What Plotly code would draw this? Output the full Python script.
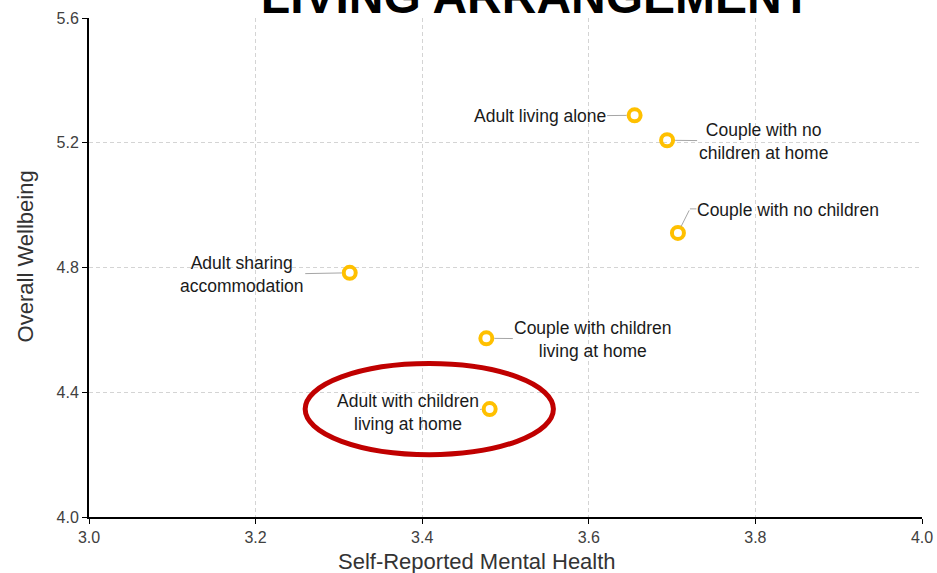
import plotly.graph_objects as go

# ---- data ----
categories = [
    "Adult living alone",
    "Couple with no<br>children at home",
    "Couple with no children",
    "Adult sharing<br>accommodation",
    "Couple with children<br>living at home",
    "Adult with children<br>living at home",
]
mental_health = [3.655, 3.694, 3.707, 3.313, 3.477, 3.481]
wellbeing = [5.288, 5.208, 4.911, 4.783, 4.573, 4.346]
x_ticks = [3.0, 3.2, 3.4, 3.6, 3.8, 4.0]
y_ticks = [4.0, 4.4, 4.8, 5.2, 5.6]
highlight_index = 5

# ---- label placement (pixel offsets of label centre from its point) ----
label_offsets = [(-95, 1), (96, 1), (110, -23), (-108, 2), (107, 1), (-82, 3)]
elbow_label = 2

FONT = "Arial, Liberation Sans, sans-serif"

fig = go.Figure()
fig.add_trace(go.Scatter(
    x=mental_health, y=wellbeing, mode="markers",
    marker=dict(symbol="circle-open", size=12, color="#FFC000",
                line=dict(width=4, color="#FFC000")),
    hoverinfo="text", text=categories, showlegend=False,
))

annotations = []
for i, (cat, xv, yv) in enumerate(zip(categories, mental_health, wellbeing)):
    dx, dy = label_offsets[i]
    if i == elbow_label:
        annotations.append(dict(
            x=xv, y=yv, xref="x", yref="y", text=cat, showarrow=False,
            xshift=dx, yshift=-dy, font=dict(family=FONT, size=17.5, color="#1a1a1a")))
        # elbow leader: diagonal part and short horizontal part
        annotations.append(dict(
            x=xv, y=yv, xref="x", yref="y", text="", showarrow=True,
            ax=12, ay=-24, arrowhead=0, arrowwidth=1, arrowcolor="#a6a6a6", standoff=7))
        annotations.append(dict(
            x=xv, y=yv, xref="x", yref="y", text="", showarrow=True,
            xshift=12, yshift=24, ax=8, ay=0,
            arrowhead=0, arrowwidth=1, arrowcolor="#a6a6a6", standoff=0))
    else:
        annotations.append(dict(
            x=xv, y=yv, xref="x", yref="y", text=cat, showarrow=True,
            ax=dx, ay=dy, arrowhead=0, arrowwidth=1, arrowcolor="#a6a6a6",
            standoff=8, font=dict(family=FONT, size=17.5, color="#1a1a1a")))

# axis titles
annotations.append(dict(
    text="Self-Reported Mental Health", xref="paper", yref="paper",
    x=0.4652, y=-0.089, xanchor="center", yanchor="middle", showarrow=False,
    font=dict(family=FONT, size=22, color="#333333")))
annotations.append(dict(
    text="Overall Wellbeing", xref="paper", yref="paper",
    x=-0.0764, y=0.523, xanchor="center", yanchor="middle", showarrow=False,
    textangle=-90, font=dict(family=FONT, size=22, color="#333333")))

# highlight ellipse around the highlighted category
hx, hy = mental_health[highlight_index], wellbeing[highlight_index]
cx, half_w, half_h = hx - 0.0725, 0.149, 0.146
shapes = [dict(type="circle", xref="x", yref="y",
               x0=cx - half_w, x1=cx + half_w, y0=hy - half_h, y1=hy + half_h,
               line=dict(color="#C00000", width=5), layer="above")]

fig.update_layout(
    width=937, height=573,
    margin=dict(l=89, r=15, t=18, b=56, autoexpand=False),
    paper_bgcolor="white", plot_bgcolor="white",
    title=dict(text="<b>LIVING ARRANGEMENT</b>", xref="container", yref="container",
               x=0.572, xanchor="center", y=1 - 13 / 573, yanchor="bottom",
               font=dict(family=FONT, size=48, color="black")),
    annotations=annotations, shapes=shapes,
    xaxis=dict(range=[3.0, 4.0], tickvals=x_ticks, ticktext=[f"{v:.1f}" for v in x_ticks],
               showline=True, linecolor="black", linewidth=2,
               ticks="outside", ticklen=5, tickcolor="black", tickwidth=1,
               showgrid=True, gridcolor="#d4d4d4", griddash="4px,3px", gridwidth=1,
               zeroline=False, tickfont=dict(family=FONT, size=16, color="#404040")),
    yaxis=dict(range=[4.0, 5.6], tickvals=y_ticks, ticktext=[f"{v:.1f}" for v in y_ticks],
               showline=True, linecolor="black", linewidth=2,
               ticks="outside", ticklen=5, tickcolor="black", tickwidth=1,
               showgrid=True, gridcolor="#d4d4d4", griddash="4px,3px", gridwidth=1,
               zeroline=False, tickfont=dict(family=FONT, size=16, color="#404040")),
)

fig.write_html("out.html", config={"displayModeBar": False},
               post_script="document.body.style.margin='0';document.body.style.overflow='hidden';")
